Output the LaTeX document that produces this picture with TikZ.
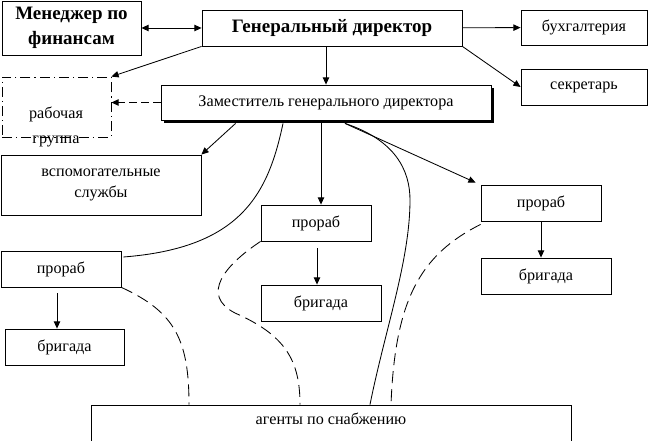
\documentclass[tikz,border=0pt]{standalone}
\usepackage{fontspec}
\setmainfont{Liberation Serif}
\usetikzlibrary{positioning,calc,shadows,arrows.meta}

\begin{document}
\begin{tikzpicture}[x=0.25mm, y=-0.25mm, line width=0.6pt, >={Triangle[length=1.8mm,width=1.6mm]},
        box/.style={draw, rectangle, inner sep=1pt, align=center, font=\fontsize{11.5}{15}\selectfont},
        boss/.style={box, font=\fontsize{13.5}{17.5}\selectfont\bfseries},
        link/.style={dash pattern=on 3mm off 1.5mm}]
        \useasboundingbox (0,0) rectangle (651,441);

        \node[boss, minimum width=34.75mm, minimum height=13.5mm] (fin) at (71.5,28) {Менеджер по\\финансам};
        \node[boss, minimum width=65mm, minimum height=9mm] (gen) at (332,28) {Генеральный директор};
        \node[box, minimum width=31.5mm, minimum height=8.75mm] (buh) at (584,27.5) {бухгалтерия};
        \node[box, minimum width=31.5mm, minimum height=9mm] (sek) at (584,87) {секретарь};
        \node[box, fill=white, minimum width=82.5mm, minimum height=8.75mm,
            drop shadow={shadow xshift=0.75mm, shadow yshift=-0.75mm, fill=black, opacity=1}] (zam) at (326,102.5) {Заместитель генерального директора};
        \node[draw, dash pattern=on 2.5mm off 1mm on 0.3mm off 1mm, minimum width=27.25mm, minimum height=15mm] (rab) at (56.5,107) {};
        \node[align=center, font=\fontsize{11.5}{18}\selectfont] (rabtxt) at (56,127) {рабочая\\группа};
        \node[box, minimum width=50mm, minimum height=15mm] (vsp) at (101,185) {вспомогательные\\службы};

        \node[box, minimum width=30mm, minimum height=9mm] (pr1) at (61,269) {прораб};
        \node[box, minimum width=29.75mm, minimum height=9mm] (br1) at (64.5,347) {бригада};
        \node[box, minimum width=27.5mm, minimum height=9mm] (pr2) at (316,223) {прораб};
        \node[box, minimum width=30mm, minimum height=9mm] (br2) at (321,303) {бригада};
        \node[box, minimum width=30mm, minimum height=9mm] (pr3) at (541,203) {прораб};
        \node[box, minimum width=32.5mm, minimum height=9mm] (br3) at (546,276) {бригада};
        \node[box, minimum width=120mm, minimum height=10mm, text depth=3mm] (agt) at (331,425) {агенты по снабжению};

        \draw[<->] (fin) -- (gen);
        \draw[->] (gen) -- (buh);
        \draw[->] (gen.south east) -- (sek.west);
        \draw[->] (gen.south -| zam.north) -- (zam.north);
        \draw[->] (gen.south west) -- (rab.north east);
        \draw[->, dash pattern=on 2mm off 1mm] (zam.west) -- (zam.west -| rab.east);

        \draw[->] ($(zam.south west)+(75,3)$) -- (vsp.north east);
        \draw[->] ($(zam.south)+(-5,3)$) -- ($(pr2.north)+(5,0)$);
        \draw[->] ($(zam.south)+(19,3)$) -- ($(pr3.north west)+(-5,-2)$);

        \draw ($(zam.south)+(-43,3)$) .. controls (268,195) and (240,248) .. ($(pr1.east)+(2,-12)$);
        \draw ($(zam.south)+(19,3)$) .. controls (395,140) and (410,170) .. (410,200)
            .. controls (410,260) and (385,330) .. ($(agt.north)+(39,0)$);

        \draw[link] (pr1.south east) .. controls (175,312) and (189,340) .. ($(agt.north)+(-142,0)$);
        \draw[link] (pr2.south west) .. controls (225,265) and (200,295) .. (235,313)
            .. controls (285,335) and (300,360) .. ($(agt.north)+(-31,0)$);
        \draw[link] ($(pr3.south west)+(0,3)$) .. controls (420,255) and (395,300) .. ($(agt.north)+(60,0)$);

        \draw[->] ($(pr1.south)+(-4,6)$) -- ($(br1.north)+(-7.5,0)$);
        \draw[->] ($(pr2.south)+(1,7)$) -- ($(br2.north)+(-4,0)$);
        \draw[->] (pr3.south) -- (pr3.south |- br3.north);
    \end{tikzpicture}
\end{document}
